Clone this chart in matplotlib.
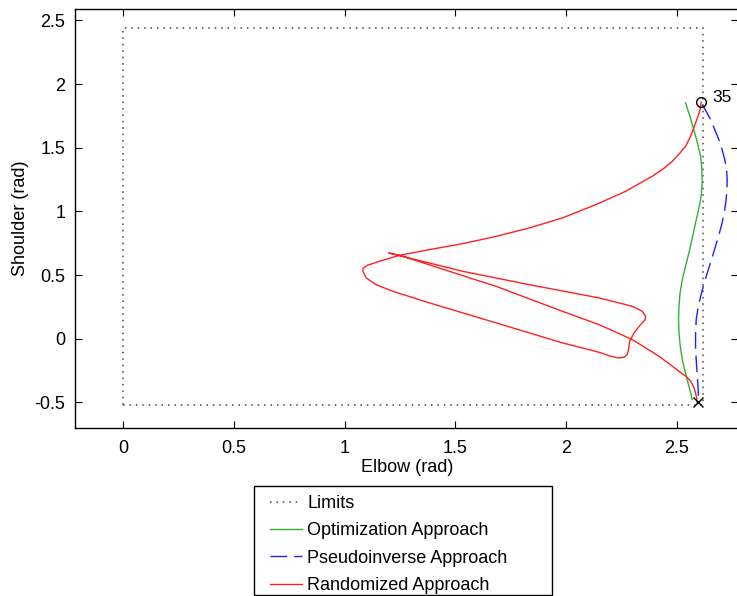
import matplotlib
matplotlib.use("Agg")
import matplotlib.pyplot as plt
from matplotlib.patches import Rectangle

plt.rcParams['font.family'] = ['Liberation Sans', 'DejaVu Sans']

# Joint limits (rad)
elbow_limits = [0.0, 2.618]
shoulder_limits = [-0.5236, 2.443]

# Optimization approach trajectory (elbow, shoulder)
opt_elbow = [2.541, 2.560, 2.578, 2.595, 2.609, 2.614, 2.616, 2.614, 2.609, 2.598, 2.586, 2.571,
             2.556, 2.540, 2.526, 2.516, 2.511, 2.509, 2.511, 2.517, 2.526, 2.537, 2.548, 2.560, 2.571]
opt_shoulder = [1.852, 1.750, 1.642, 1.535, 1.432, 1.340, 1.250, 1.170, 1.093, 1.000, 0.910, 0.790,
                0.674, 0.565, 0.465, 0.360, 0.255, 0.150, 0.046, -0.060, -0.163, -0.245, -0.320, -0.400, -0.477]

# Pseudoinverse approach trajectory (elbow, shoulder)
pinv_elbow = [2.616, 2.636, 2.654, 2.673, 2.691, 2.706, 2.718, 2.726, 2.729, 2.728, 2.724, 2.717, 2.706,
              2.692, 2.676, 2.658, 2.639, 2.623, 2.609, 2.597, 2.589, 2.586, 2.586, 2.589, 2.593, 2.597, 2.600]
pinv_shoulder = [1.838, 1.780, 1.721, 1.642, 1.564, 1.485, 1.407, 1.330, 1.250, 1.170, 1.093, 1.000, 0.910,
                 0.818, 0.726, 0.620, 0.517, 0.425, 0.334, 0.242, 0.151, 0.045, -0.059, -0.165, -0.268, -0.372, -0.477]

# Randomized approach trajectory (elbow, shoulder)
rand_elbow = [2.611, 2.609, 2.600, 2.586, 2.566, 2.541, 2.511, 2.481, 2.437, 2.390, 2.270, 2.135,
              1.984, 1.834, 1.684, 1.533, 1.383, 1.247, 1.157, 1.104, 1.084, 1.082, 1.097, 1.142,
              1.217, 1.383, 1.684, 1.984, 2.150, 2.200, 2.233, 2.263, 2.276, 2.282, 2.288, 2.308,
              2.330, 2.345, 2.358, 2.360, 2.345, 2.300, 2.150, 1.834, 1.533, 1.199,
              1.262, 1.684, 1.984, 2.150, 2.300, 2.421, 2.511, 2.545, 2.564, 2.578, 2.586, 2.591, 2.593]
rand_shoulder = [1.857, 1.820, 1.760, 1.695, 1.600, 1.511, 1.450, 1.393, 1.330, 1.276, 1.158, 1.053,
                 0.949, 0.870, 0.804, 0.747, 0.700, 0.655, 0.608, 0.578, 0.555, 0.530, 0.478, 0.425,
                 0.373, 0.282, 0.125, -0.032, -0.106, -0.135, -0.150, -0.145, -0.125, -0.098, -0.020, 0.046,
                 0.095, 0.125, 0.150, 0.177, 0.216, 0.255, 0.321, 0.425, 0.530, 0.674,
                 0.648, 0.412, 0.216, 0.111, -0.006, -0.137, -0.255, -0.298, -0.334, -0.380, -0.425, -0.465, -0.503]

start_point = (2.598, -0.493)
goal_point = (2.611, 1.857)
goal_label = "35"

x_ticks = [0, 0.5, 1, 1.5, 2, 2.5]
x_tick_labels = ["0", "0.5", "1", "1.5", "2", "2.5"]
y_ticks = [-0.5, 0, 0.5, 1, 1.5, 2, 2.5]
y_tick_labels = ["-0.5", "0", "0.5", "1", "1.5", "2", "2.5"]

fig = plt.figure(figsize=(7.37, 5.96), dpi=100)
ax = fig.add_axes([0.102, 0.282, 0.900, 0.703])

lim_x = [elbow_limits[0], elbow_limits[1], elbow_limits[1], elbow_limits[0], elbow_limits[0]]
lim_y = [shoulder_limits[0], shoulder_limits[0], shoulder_limits[1], shoulder_limits[1], shoulder_limits[0]]
h_lim, = ax.plot(lim_x, lim_y, linestyle=(0, (1, 3.2)), color='#444444', lw=1.1, label='Limits')
h_opt, = ax.plot(opt_elbow, opt_shoulder, color='#33b033', lw=1.0, label='Optimization Approach')
h_pinv, = ax.plot(pinv_elbow, pinv_shoulder, color='#2020ff', lw=1.0, linestyle=(0, (12, 5)),
                  label='Pseudoinverse Approach')
h_rand, = ax.plot(rand_elbow, rand_shoulder, color='#ff2020', lw=1.0, label='Randomized Approach')

ax.plot([start_point[0]], [start_point[1]], marker='x', color='black', markersize=7, mew=1.0, linestyle='none')
ax.plot([goal_point[0]], [goal_point[1]], marker='o', mfc='none', mec='black', markersize=7, mew=1.0,
        linestyle='none')
ax.text(2.66, 1.896, goal_label, fontsize=12.5, va='center', ha='left')

ax.set_xlim(-0.218, 2.78)
ax.set_ylim(-0.70, 2.59)
ax.set_xticks(x_ticks)
ax.set_xticklabels(x_tick_labels)
ax.set_yticks(y_ticks)
ax.set_yticklabels(y_tick_labels)
ax.tick_params(direction='in', top=True, right=True, length=5, labelsize=13, pad=9)
ax.tick_params(axis='y', pad=7)
for s in ax.spines.values():
    s.set_linewidth(1.0)

ax.set_xlabel('Elbow (rad)', fontsize=13, labelpad=1)
ax.set_ylabel('Shoulder (rad)', fontsize=13, labelpad=4)

# Legend entries without a frame, boxed by a separate rectangle
leg = fig.legend(handles=[h_lim, h_opt, h_pinv, h_rand], loc='upper left',
                 bbox_to_anchor=(270 / 737, 1 - 495 / 596), fontsize=13, frameon=False,
                 handlelength=1.75, labelspacing=0.57, borderpad=0.0,
                 handletextpad=0.3, borderaxespad=0)
fig.patches.append(Rectangle((254 / 737, 1 - 595 / 596), 298 / 737, 109 / 596,
                             transform=fig.transFigure, fill=False, edgecolor='black', lw=1.0))

fig.savefig('out.png', dpi=100)
